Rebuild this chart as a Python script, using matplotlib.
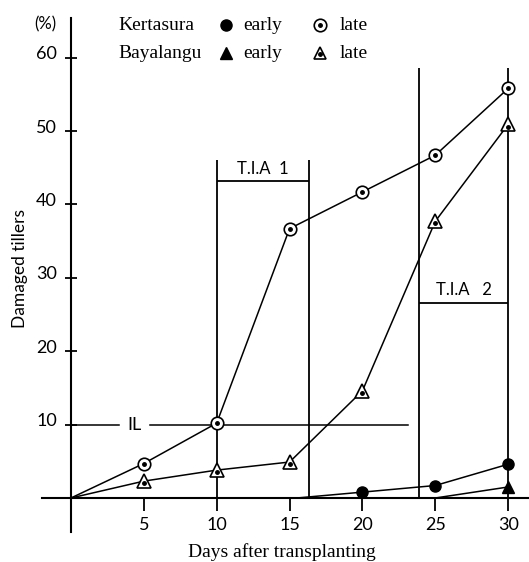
import matplotlib.pyplot as plt
import matplotlib.transforms as mtransforms

# Datos
dias = [0, 5, 10, 15, 20, 25, 30]
kertasura_tarde = [0, 4.7, 10.2, 36.7, 41.7, 46.7, 55.8]
bayalangu_tarde = [0, 2.3, 3.8, 4.9, 14.6, 37.7, 50.9]
kertasura_temprano_x = [15.5, 20, 25, 30]
kertasura_temprano = [0, 0.8, 1.7, 4.6]
bayalangu_temprano_x = [25, 30]
bayalangu_temprano = [0, 1.5]

x_ticks = [5, 10, 15, 20, 25, 30]
y_ticks = [10, 20, 30, 40, 50, 60]

# Nivel de intervencion (IL) y periodos T.I.A
il_nivel = 10
il_tramos = [(0, 3.3), (5.4, 23.1)]
tia1_x = [10, 16.3]
tia1_y = 43.2
tia1_top = 46
tia2_x = [23.9, 30]
tia2_y = 26.6
tia2_top = 58.6

SANS = ['Lato', 'DejaVu Sans']
SERIF = ['Liberation Serif', 'DejaVu Serif']


def dibujar():
    fig = plt.figure(figsize=(5.29, 5.62), dpi=100)
    ax = fig.add_axes([0, 0, 1, 1])
    ax.set_xlim(-4.87, 31.43)
    ax.set_ylim(-8.72, 67.85)
    ax.patch.set_visible(False)

    # ejes cruzando en el origen
    for s in ['top', 'right']:
        ax.spines[s].set_visible(False)
    ax.spines['left'].set_position(('data', 0))
    ax.spines['bottom'].set_position(('data', 0))
    ax.spines['left'].set_bounds(-4.7, 65.4)
    ax.spines['bottom'].set_bounds(-2, 31.4)
    for s in ['left', 'bottom']:
        ax.spines[s].set_linewidth(1.5)

    ax.set_xticks(x_ticks)
    ax.set_xticklabels([str(v) for v in x_ticks], family=SANS, fontsize=13)
    ax.set_yticks(y_ticks)
    ax.set_yticklabels([str(v) for v in y_ticks], family=SANS, fontsize=13)
    ax.tick_params(axis='x', direction='out', length=9, width=1.3, pad=5)
    ax.tick_params(axis='y', direction='inout', length=8, width=1.3, pad=6)
    off = mtransforms.ScaledTranslation(0, 5 / 100, fig.dpi_scale_trans)
    for lbl in ax.get_yticklabels():
        lbl.set_transform(lbl.get_transform() + off)

    lw = 1.1
    # lineas de IL
    for a, b in il_tramos:
        ax.plot([a, b], [il_nivel, il_nivel], color='black', lw=lw)
    ax.text(sum(il_tramos[0][1:] + il_tramos[1][:1]) / 2, il_nivel, 'IL',
            ha='center', va='center', family=SANS, fontsize=13)

    # recuadros T.I.A
    ax.vlines(tia1_x, 0, tia1_top, color='black', lw=1.3)
    ax.hlines(tia1_y, tia1_x[0], tia1_x[1], color='black', lw=1.3)
    ax.text(sum(tia1_x) / 2, tia1_y + 0.6, 'T.I.A  1', ha='center', va='bottom',
            family=SANS, fontsize=12)
    ax.vlines(tia2_x, 0, tia2_top, color='black', lw=1.3)
    ax.hlines(tia2_y, tia2_x[0], tia2_x[1], color='black', lw=1.3)
    ax.text(sum(tia2_x) / 2, tia2_y + 0.6, 'T.I.A   2', ha='center', va='bottom',
            family=SANS, fontsize=12)

    # series
    ax.plot(dias, kertasura_tarde, color='black', lw=lw, marker='o', ms=9,
            mfc='white', mec='black', mew=1.2, markevery=list(range(1, len(dias))), zorder=3)
    ax.plot(dias[1:], kertasura_tarde[1:], ls='none', marker='o', ms=2.5,
            color='black', zorder=4)
    ax.plot(dias, bayalangu_tarde, color='black', lw=lw, marker='^', ms=10,
            mfc='white', mec='black', mew=1.2, markevery=list(range(1, len(dias))), zorder=3)
    ax.plot(dias[1:], [v - 0.3 for v in bayalangu_tarde[1:]], ls='none', marker='o',
            ms=2.5, color='black', zorder=4)
    ax.plot(kertasura_temprano_x, kertasura_temprano, color='black', lw=lw,
            marker='o', ms=8, markevery=[1, 2, 3], zorder=3)
    ax.plot(bayalangu_temprano_x, bayalangu_temprano, color='black', lw=lw,
            marker='^', ms=9, markevery=[1], zorder=3)

    # etiquetas de ejes
    fig.text(282 / 529, 1 - 552 / 562, 'Days after transplanting', ha='center',
             va='center', family=SERIF, fontsize=14)
    fig.text(20 / 529, 1 - 268 / 562, 'Damaged tillers', ha='center', va='center',
             rotation=90, family=SANS, fontsize=12.5)
    fig.text(45 / 529, 1 - 24 / 562, '(%)', ha='center', va='center',
             family=SANS, fontsize=12)

    # leyenda manual
    filas = [('Kertasura', 'o', 25), ('Bayalangu', '^', 53)]
    for nombre, mk, yp in filas:
        yf = 1 - yp / 562
        fig.text(118 / 529, yf, nombre, ha='left', va='center', family=SERIF, fontsize=14)
        fig.text(243 / 529, yf, 'early', ha='left', va='center', family=SERIF, fontsize=14)
        fig.text(340 / 529, yf, 'late', ha='left', va='center', family=SERIF, fontsize=14)
        ax.plot([226 / 529], [yf], transform=fig.transFigure, marker=mk, ms=8,
                color='black', clip_on=False)
        ax.plot([320 / 529], [yf], transform=fig.transFigure, marker=mk, ms=9,
                mfc='white', mec='black', mew=1.2, clip_on=False)
        ax.plot([320 / 529], [yf - (0.001 if mk == '^' else 0)], transform=fig.transFigure,
                marker='o', ms=2.5, color='black', clip_on=False)

    plt.savefig('out.png', dpi=100)


if __name__ == "__main__":
    dibujar()
